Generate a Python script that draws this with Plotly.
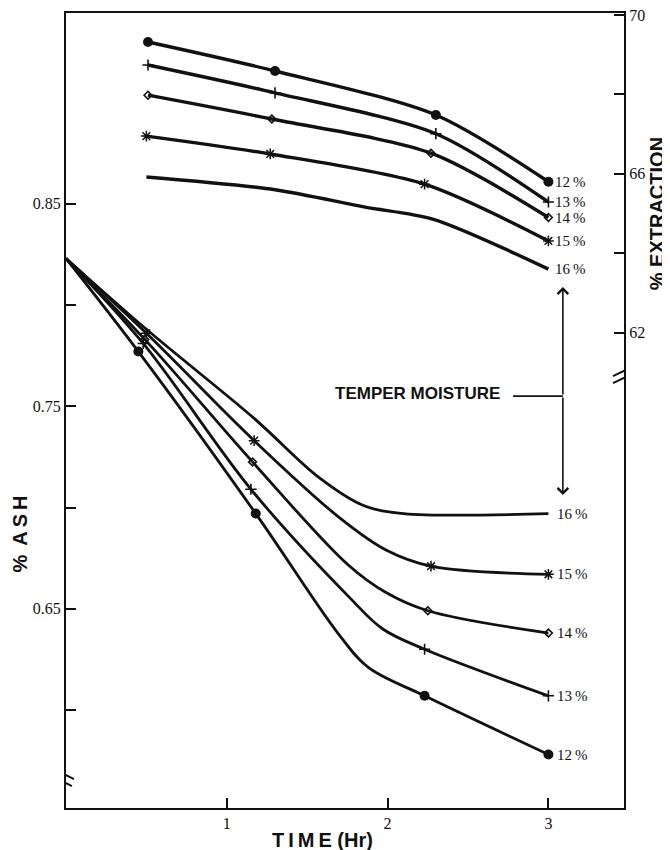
import plotly.graph_objects as go

# ---------------- data ----------------
moisture = ["12%", "13%", "14%", "15%", "16%"]

# Upper family: % extraction (right axis) vs time (hr)
ext_x_12 = [0.51, 1.30, 2.30, 3.00]
ext_y_12 = [69.32, 68.59, 67.48, 65.80]
ext_x_13 = [0.51, 1.30, 2.30, 3.00]
ext_y_13 = [68.74, 68.04, 67.01, 65.29]
ext_x_14 = [0.51, 1.28, 2.27, 3.00]
ext_y_14 = [67.98, 67.38, 66.52, 64.90]
ext_x_15 = [0.50, 1.27, 2.23, 3.00]
ext_y_15 = [66.95, 66.50, 65.74, 64.31]
ext_x_16 = [0.50, 1.30, 1.86, 2.28, 3.00]
ext_y_16 = [65.92, 65.60, 65.16, 64.86, 63.60]
ext_marked = {"12%": [0, 1, 2, 3], "13%": [0, 1, 2, 3], "14%": [0, 1, 2, 3],
              "15%": [0, 1, 2, 3], "16%": []}

# Lower family: % ash (left axis) vs time (hr)
ash_x_12 = [0.00, 0.45, 1.18, 1.70, 1.88, 2.23, 3.00]
ash_y_12 = [0.823, 0.777, 0.697, 0.637, 0.621, 0.607, 0.578]
ash_x_13 = [0.00, 0.48, 1.15, 1.77, 1.97, 2.23, 3.00]
ash_y_13 = [0.823, 0.781, 0.709, 0.655, 0.640, 0.630, 0.607]
ash_x_14 = [0.00, 0.49, 1.16, 1.75, 1.99, 2.25, 3.00]
ash_y_14 = [0.823, 0.783, 0.7225, 0.672, 0.658, 0.649, 0.638]
ash_x_15 = [0.00, 0.50, 1.17, 1.70, 1.99, 2.27, 3.00]
ash_y_15 = [0.823, 0.786, 0.733, 0.695, 0.679, 0.671, 0.667]
ash_x_16 = [0.00, 0.50, 1.17, 1.57, 1.85, 2.10, 3.00]
ash_y_16 = [0.823, 0.788, 0.744, 0.715, 0.701, 0.697, 0.697]
ash_marked = {"12%": [1, 2, 5, 6], "13%": [1, 2, 5, 6], "14%": [1, 2, 5, 6],
              "15%": [1, 2, 5, 6], "16%": []}

ext_series = {"12%": (ext_x_12, ext_y_12), "13%": (ext_x_13, ext_y_13),
              "14%": (ext_x_14, ext_y_14), "15%": (ext_x_15, ext_y_15),
              "16%": (ext_x_16, ext_y_16)}
ash_series = {"12%": (ash_x_12, ash_y_12), "13%": (ash_x_13, ash_y_13),
              "14%": (ash_x_14, ash_y_14), "15%": (ash_x_15, ash_y_15),
              "16%": (ash_x_16, ash_y_16)}

x_ticks = [1, 2, 3]
ash_ticks = [0.60, 0.65, 0.70, 0.75, 0.80, 0.85]
ash_ticktext = ["", "0.65", "", "0.75", "", "0.85"]
ext_ticks = [62, 64, 66, 68, 70]
ext_ticktext = ["62", "", "66", "", "70"]

# ---------------- styling ----------------
INK = "#111111"
SERIF = "Liberation Serif"
SANS = "Liberation Sans"
marker_style = {
    "12%": dict(symbol="circle", size=10, color=INK, line=dict(width=0)),
    "13%": dict(symbol="cross-thin", size=8, color=INK, line=dict(width=1.6, color=INK)),
    "14%": dict(symbol="diamond-open", size=6, color=INK, line=dict(width=1.6, color=INK)),
    "15%": dict(symbol="asterisk", size=9, color=INK, line=dict(width=1.5, color=INK)),
    "16%": dict(symbol="circle", size=0, color=INK),
}

fig = go.Figure()

for name in moisture:
    xs, ys = ext_series[name]
    fig.add_trace(go.Scatter(x=xs, y=ys, yaxis="y2", mode="lines",
                             line=dict(color=INK, width=3.4, shape="spline", smoothing=0.8),
                             hoverinfo="skip", showlegend=False))
    idx = ext_marked[name]
    if idx:
        fig.add_trace(go.Scatter(x=[xs[i] for i in idx], y=[ys[i] for i in idx], yaxis="y2",
                                 mode="markers", marker=marker_style[name],
                                 hoverinfo="skip", showlegend=False))

for name in moisture:
    xs, ys = ash_series[name]
    fig.add_trace(go.Scatter(x=xs, y=ys, yaxis="y", mode="lines",
                             line=dict(color=INK, width=2.8, shape="spline", smoothing=1.0),
                             hoverinfo="skip", showlegend=False))
    idx = ash_marked[name]
    if idx:
        fig.add_trace(go.Scatter(x=[xs[i] for i in idx], y=[ys[i] for i in idx], yaxis="y",
                                 mode="markers", marker=marker_style[name],
                                 hoverinfo="skip", showlegend=False))

annotations = []
# end-of-curve labels
for name in moisture:
    xs, ys = ext_series[name]
    annotations.append(dict(x=xs[-1] + 0.03, y=ys[-1], xref="x", yref="y2", text=name.replace("%", "\u2009%"),
                            showarrow=False, xanchor="left", yanchor="middle",
                            font=dict(family=SERIF, size=15, color=INK)))
    xs, ys = ash_series[name]
    annotations.append(dict(x=xs[-1] + 0.04, y=ys[-1], xref="x", yref="y", text=name.replace("%", "\u2009%"),
                            showarrow=False, xanchor="left", yanchor="middle",
                            font=dict(family=SERIF, size=15, color=INK)))

# TEMPER MOISTURE pointer
annotations.append(dict(x=2.71, y=0.7565, xref="x", yref="y", text="TEMPER MOISTURE",
                        showarrow=False, xanchor="right", yanchor="middle",
                        font=dict(family=SANS, size=17, color=INK, weight="bold")))
for tip in (0.8089, 0.7062):
    annotations.append(dict(x=3.09, y=tip, xref="x", yref="y", ax=3.09, ay=0.755,
                            axref="x", ayref="y", text="", showarrow=True,
                            arrowhead=4, arrowsize=1.3, arrowwidth=1.6, arrowcolor=INK, standoff=0))

# axis titles
annotations.append(dict(x=-0.083, y=0.345, xref="paper", yref="paper", text="%\u2009 A\u2009S\u2009H",
                        showarrow=False, textangle=-90, xanchor="center", yanchor="middle",
                        font=dict(family=SANS, size=20, color=INK, weight="bold")))
annotations.append(dict(x=1.059, y=0.748, xref="paper", yref="paper", text="% EXTRACTION",
                        showarrow=False, textangle=-90, xanchor="center", yanchor="middle",
                        font=dict(family=SANS, size=20, color=INK, weight="bold")))
annotations.append(dict(x=0.459, y=-0.040, xref="paper", yref="paper", text="T\u2009I\u2009M\u2009E (Hr)",
                        showarrow=False, xanchor="center", yanchor="middle",
                        font=dict(family=SANS, size=20, color=INK, weight="bold")))

shapes = [
    # horizontal leader from the label to the double arrow
    dict(type="line", xref="x", yref="y", x0=2.78, x1=3.09, y0=0.755, y1=0.755,
         line=dict(color=INK, width=1.6)),
    # axis-break marks, left axis
    dict(type="line", xref="x", yref="y", xsizemode="pixel", ysizemode="pixel",
         xanchor=0, yanchor=0.5664, x0=-12, x1=8, y0=9, y1=-1, line=dict(color=INK, width=2)),
    dict(type="line", xref="x", yref="y", xsizemode="pixel", ysizemode="pixel",
         xanchor=0, yanchor=0.5664, x0=-14, x1=6, y0=2, y1=-8, line=dict(color=INK, width=2)),
    # axis-break marks, right axis
    dict(type="line", xref="x", yref="y2", xsizemode="pixel", ysizemode="pixel",
         xanchor=3.47, yanchor=60.93, x0=-11, x1=10, y0=-1, y1=9, line=dict(color=INK, width=2)),
    dict(type="line", xref="x", yref="y2", xsizemode="pixel", ysizemode="pixel",
         xanchor=3.47, yanchor=60.93, x0=-11, x1=10, y0=-8, y1=2, line=dict(color=INK, width=2)),
]

# The page body adds an 8 px offset, so margins are shifted to keep the plot area in place.
fig.update_layout(
    width=670, height=850,
    margin=dict(l=58, r=54, t=5, b=50, autoexpand=False),
    paper_bgcolor="white", plot_bgcolor="white",
    showlegend=False,
    annotations=annotations,
    shapes=shapes,
    xaxis=dict(range=[0, 3.47], tickvals=x_ticks, ticktext=[str(v) for v in x_ticks],
               ticks="inside", ticklen=10, tickwidth=1.6, tickcolor=INK,
               showline=True, linecolor=INK, linewidth=2, mirror=True,
               showgrid=False, zeroline=False, automargin=False, ticklabeloverflow="allow",
               tickfont=dict(family=SERIF, size=16, color=INK)),
    yaxis=dict(range=[0.5516, 0.9442], tickvals=ash_ticks, ticktext=ash_ticktext,
               ticks="inside", ticklen=10, tickwidth=1.6, tickcolor=INK,
               showline=True, linecolor=INK, linewidth=2,
               showgrid=False, zeroline=False, automargin=False, ticklabeloverflow="allow",
               tickfont=dict(family=SERIF, size=16, color=INK)),
    yaxis2=dict(range=[50.03, 70.05], overlaying="y", side="right",
                tickvals=ext_ticks, ticktext=ext_ticktext,
                ticks="inside", ticklen=10, tickwidth=1.6, tickcolor=INK,
                showline=True, linecolor=INK, linewidth=2,
                showgrid=False, zeroline=False, automargin=False, ticklabeloverflow="allow",
                tickfont=dict(family=SERIF, size=16, color=INK)),
)

fig.write_html("out.html")
